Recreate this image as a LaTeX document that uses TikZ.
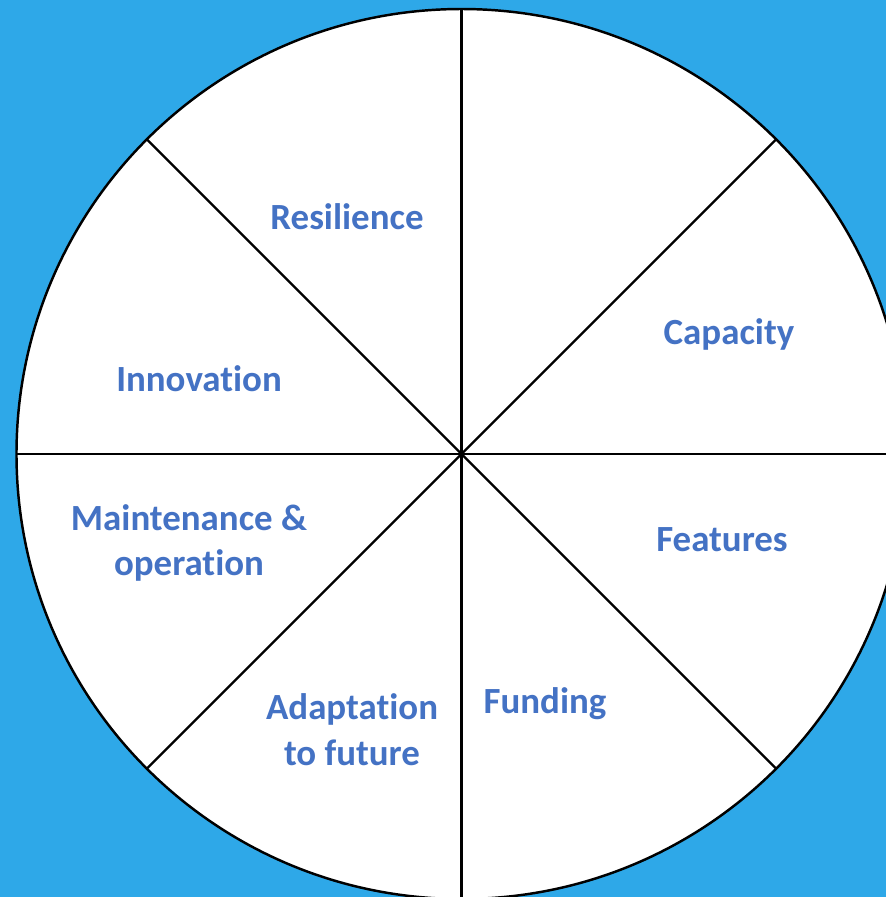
\documentclass[tikz,border=0pt]{standalone}
\usepackage{fontspec}
\setmainfont{Carlito}[Ligatures=NoCommon]
\usepackage{tikz}
\usetikzlibrary{calc,positioning}
\definecolor{skyback}{HTML}{2EA8E8}
\definecolor{labelblue}{HTML}{4472C4}
\tikzstyle{label}  = [text=labelblue, font=\fontsize{21}{26}\selectfont\bfseries, align=center]
\tikzstyle{spoke}  = [line width=1.4pt, black]

\begin{document}
\begin{tikzpicture}
		\fill[skyback] (-9.23,-8.86) rectangle (8.49,9.08);
		\useasboundingbox (-9.23,-8.86) rectangle (8.49,9.08);

		\coordinate (c) at (0,0);
		\draw[spoke, fill=white] (c) circle (8.9);

		\draw[spoke] (90:8.9) -- (270:8.9);
		\draw[spoke] (0:8.9) -- (180:8.9);
		\draw[spoke] (45:8.9) -- (225:8.9);
		\draw[spoke] (135:8.9) -- (315:8.9);

		\node[label] (resilience) at (-2.29,4.74) {Resilience};
		\node[label] (capacity) at (5.35,2.40) {Capacity};
		\node[label] (innovation) at (-5.25,1.50) {Innovation};
		\node[label] (features) at (5.21,-1.72) {Features};
		\node[label] (maintenance) at (-5.45,-1.78) {Maintenance \&\\operation};
		\node[label] (adaptation) at (-2.19,-5.52) {Adaptation\\to future};
		\node[label] (funding) at (1.67,-5.00) {Funding};
	\end{tikzpicture}
\end{document}
